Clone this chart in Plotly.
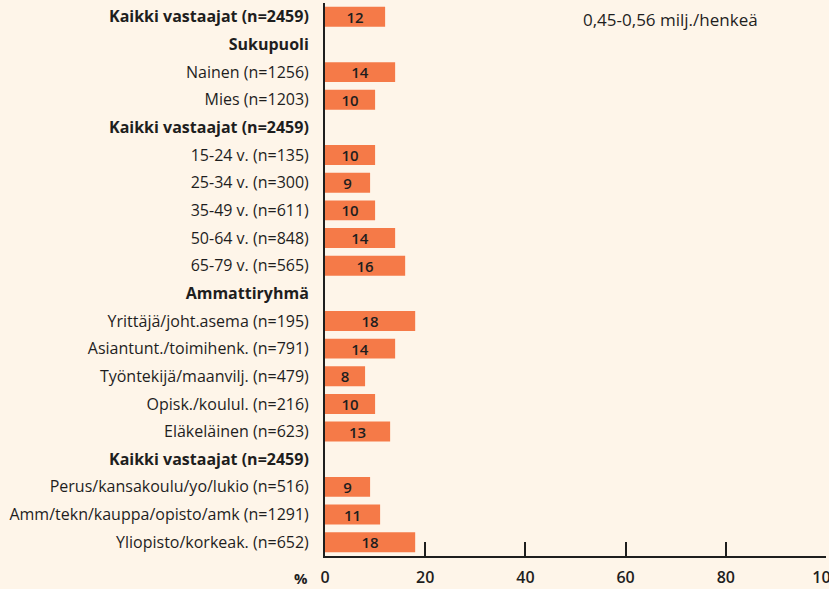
import plotly.graph_objects as go

categories = [
    "Kaikki vastaajat (n=2459)", "Sukupuoli", "Nainen (n=1256)", "Mies (n=1203)",
    "Kaikki vastaajat (n=2459)", "15-24 v. (n=135)", "25-34 v. (n=300)", "35-49 v. (n=611)",
    "50-64 v. (n=848)", "65-79 v. (n=565)", "Ammattiryhmä", "Yrittäjä/joht.asema (n=195)",
    "Asiantunt./toimihenk. (n=791)", "Työntekijä/maanvilj. (n=479)", "Opisk./koulul. (n=216)",
    "Eläkeläinen (n=623)", "Kaikki vastaajat (n=2459)", "Perus/kansakoulu/yo/lukio (n=516)",
    "Amm/tekn/kauppa/opisto/amk (n=1291)", "Yliopisto/korkeak. (n=652)",
]
bold_rows = [0, 1, 4, 10, 16]
values = [12, None, 14, 10, None, 10, 9, 10, 14, 16, None, 18, 14, 8, 10, 13, None, 9, 11, 18]
x_ticks = [0, 20, 40, 60, 80, 100]

rows = list(range(len(categories)))
ticktext = [f"<b>{c}</b>" if i in bold_rows else c for i, c in enumerate(categories)]

BG = "#FEF5E9"
BAR = "#F57A48"
INK = "#1E1E1E"
FONT = "Open Sans"

fig = go.Figure()
fig.add_trace(go.Bar(
    x=values, y=rows, orientation="h", width=0.72,
    marker=dict(color=BAR, line=dict(width=0)),
    text=[("" if v is None else str(v)) for v in values],
    textposition="inside", insidetextanchor="middle", textangle=0,
    textfont=dict(family=FONT, size=15, color=INK, weight=600),
    hoverinfo="skip",
))

W, H = 829, 589
L, R, T, B = 325, 3, 3, 33

fig.update_layout(
    width=W, height=H,
    paper_bgcolor=BG, plot_bgcolor=BG,
    margin=dict(l=L, r=R, t=T, b=B),
    showlegend=False,
    uniformtext=dict(minsize=15, mode="show"),
    font=dict(family=FONT, color=INK, size=15),
    xaxis=dict(
        range=[0, 100], tickvals=x_ticks, ticktext=[str(t) for t in x_ticks],
        showgrid=False, zeroline=False, showline=True, linecolor=INK, linewidth=2,
        ticks="inside", ticklen=14, tickwidth=2, tickcolor=INK, ticklabeloverflow="allow",
        automargin=False,
        tickfont=dict(family=FONT, size=16, color=INK, weight=600), ticklabelstandoff=6,
    ),
    yaxis=dict(
        range=[19.5, -0.5], tickvals=rows, ticktext=ticktext, automargin=False,
        showgrid=False, zeroline=False, showline=True, linecolor=INK, linewidth=2,
        ticks="", tickfont=dict(family=FONT, size=16, color=INK), ticklabelstandoff=11,
    ),
)
pw = W - L - R
ph = H - T - B
fig.add_annotation(text="<b>%</b>", x=(310 - L) / pw, y=(H - B - 578) / ph,
                   xref="paper", yref="paper", xanchor="right", yanchor="middle",
                   showarrow=False, font=dict(family=FONT, size=15, color=INK))
fig.add_annotation(text="0,45-0,56 milj./henkeä", x=(581 - L) / pw, y=(H - B - 19) / ph,
                   xref="paper", yref="paper", xanchor="left", yanchor="middle",
                   showarrow=False, font=dict(family=FONT, size=17, color=INK, weight=500))
fig.write_html("out.html", config={"displayModeBar": False},
               post_script="document.body.style.margin='0';document.body.style.padding='0';")
